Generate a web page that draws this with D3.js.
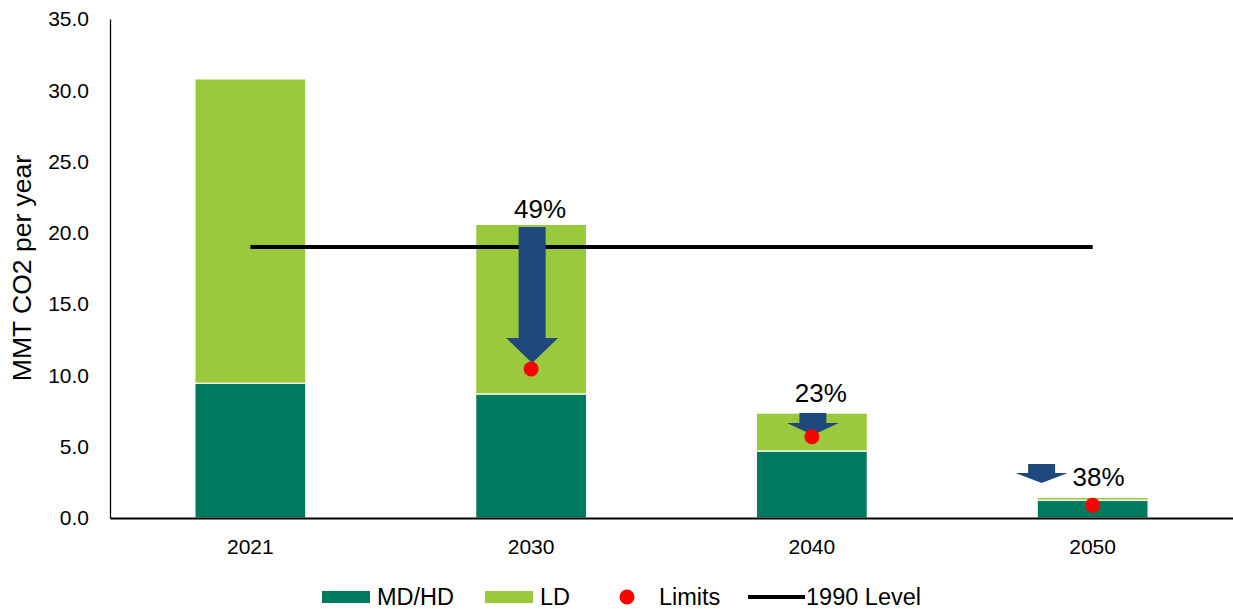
<!DOCTYPE html>
<html>
<head>
<meta charset="utf-8">
<script src="https://cdn.jsdelivr.net/npm/d3@7"></script>
<style>
  body { margin: 0; background: #fff; }
  svg { display: block; font-family: "Liberation Sans", Arial, sans-serif; }
</style>
</head>
<body>
<svg id="chart" width="1233" height="609"></svg>
<script>
const categories = ["2021", "2030", "2040", "2050"];
const mdhd = [9.45, 8.7, 4.7, 1.25];
const ld = [21.35, 11.9, 2.66, 0.2];
const limits = [null, 10.45, 5.7, 0.9];
const level1990 = 19.0;
const yTicks = [0, 5, 10, 15, 20, 25, 30, 35];
const pctLabels = [null, "49%", "23%", "38%"];
const arrowFrom = [null, 20.41, 7.36, 3.79];
const arrowTo = [null, 10.87, 5.82, 2.45];

const svg = d3.select("#chart");
const plotLeft = 110, plotRight = 1233, plotTop = 19, plotBottom = 518;

const x = d3.scaleBand().domain(categories).range([plotLeft, plotRight])
  .paddingInner(0.605).paddingOuter(0.3025);
const y = d3.scaleLinear().domain([0, 35]).range([plotBottom, plotTop]);

const colMD = "#007A5E", colLD = "#9BC93D", colArrow = "#1F497D";
const FONT = "Liberation Sans, Arial, sans-serif";

// y axis
const yAxis = d3.axisLeft(y).tickValues(yTicks).tickSize(0).tickPadding(21)
  .tickFormat(d3.format(".1f"));
const gy = svg.append("g").attr("transform", `translate(${plotLeft},0)`).call(yAxis);
gy.attr("font-size", 21).attr("font-family", FONT);
gy.select(".domain").attr("stroke", "#000").attr("stroke-width", 1.3);
gy.selectAll("text").attr("font-size", 21).attr("fill", "#000").attr("font-family", FONT);

// bars
const stackData = categories.map((c, i) => ({ c, md: mdhd[i], ld: ld[i] }));
svg.append("g").selectAll("rect").data(stackData).join("rect")
  .attr("x", d => x(d.c)).attr("width", x.bandwidth())
  .attr("y", d => y(d.md)).attr("height", d => y(0) - y(d.md))
  .attr("fill", colMD).attr("stroke", "#fff").attr("stroke-width", 1.2);
svg.append("g").selectAll("rect").data(stackData).join("rect")
  .attr("x", d => x(d.c)).attr("width", x.bandwidth())
  .attr("y", d => y(d.md + d.ld)).attr("height", d => y(d.md) - y(d.md + d.ld))
  .attr("fill", colLD).attr("stroke", "#fff").attr("stroke-width", 1.2);

// x axis
const xAxis = d3.axisBottom(x).tickSize(0).tickPadding(21);
const gx = svg.append("g").attr("transform", `translate(0,${plotBottom})`).call(xAxis);
gx.attr("font-size", 21).attr("font-family", FONT);
gx.select(".domain").attr("stroke", "#000").attr("stroke-width", 2);
gx.selectAll("text").attr("font-size", 21).attr("fill", "#000").attr("font-family", FONT);

// 1990 level line
svg.append("line")
  .attr("x1", x(categories[0]) + x.bandwidth() / 2)
  .attr("x2", x(categories[3]) + x.bandwidth() / 2)
  .attr("y1", y(level1990)).attr("y2", y(level1990))
  .attr("stroke", "#000").attr("stroke-width", 4);

// arrows
const arrowGeom = { "2030": { dx: 1, head: 25 }, "2040": { dx: 1, head: 12 }, "2050": { dx: -51, head: 10 } };
categories.forEach((c, i) => {
  if (arrowFrom[i] == null) return;
  const g = arrowGeom[c];
  const cx = x(c) + x.bandwidth() / 2 + g.dx;
  const y0 = y(arrowFrom[i]), y1 = y(arrowTo[i]);
  const sw = 13.5, hw = 26;
  const hb = y1 - g.head;
  const pts = [[cx - sw, y0], [cx + sw, y0], [cx + sw, hb], [cx + hw, hb], [cx, y1],
               [cx - hw, hb], [cx - sw, hb]];
  svg.append("path").attr("d", "M" + pts.map(p => p.join(",")).join("L") + "Z")
    .attr("fill", colArrow);
});

// limits dots
svg.append("g").selectAll("circle").data(categories.map((c, i) => ({ c, v: limits[i] })).filter(d => d.v != null))
  .join("circle")
  .attr("cx", d => x(d.c) + x.bandwidth() / 2)
  .attr("cy", d => y(d.v)).attr("r", 7.5).attr("fill", "#FF0000");

// percent labels
const pctPos = { "2030": { dx: 9, v: 20.6, dy: -6 }, "2040": { dx: 9, v: 7.36, dy: -11 }, "2050": { dx: 6, v: 1.45, dy: -11 } };
categories.forEach((c, i) => {
  if (!pctLabels[i]) return;
  const p = pctPos[c];
  svg.append("text")
    .attr("x", x(c) + x.bandwidth() / 2 + p.dx)
    .attr("y", y(p.v) + p.dy)
    .attr("text-anchor", "middle").attr("font-size", 26).attr("fill", "#000")
    .text(pctLabels[i]);
});

// y axis title
svg.append("text")
  .attr("transform", `translate(31,268) rotate(-90)`)
  .attr("text-anchor", "middle").attr("font-size", 26.5).attr("fill", "#000")
  .text("MMT CO2 per year");

// legend
const ly = 597;
const lg = svg.append("g").attr("font-size", 23.5).attr("fill", "#000");
lg.append("rect").attr("x", 322).attr("y", ly - 6).attr("width", 48).attr("height", 12).attr("fill", colMD);
lg.append("text").attr("x", 377).attr("y", ly + 8).text("MD/HD");
lg.append("rect").attr("x", 485).attr("y", ly - 6).attr("width", 48).attr("height", 12).attr("fill", colLD);
lg.append("text").attr("x", 540).attr("y", ly + 8).text("LD");
lg.append("circle").attr("cx", 627).attr("cy", ly).attr("r", 7.5).attr("fill", "#FF0000");
lg.append("text").attr("x", 659).attr("y", ly + 8).text("Limits");
lg.append("line").attr("x1", 748).attr("x2", 805).attr("y1", ly).attr("y2", ly)
  .attr("stroke", "#000").attr("stroke-width", 4);
lg.append("text").attr("x", 806).attr("y", ly + 8).text("1990 Level");
</script>
</body>
</html>
